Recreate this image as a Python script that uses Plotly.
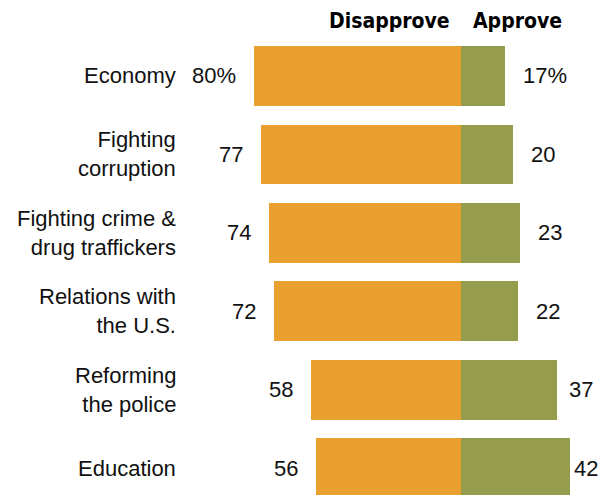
import plotly.graph_objects as go

# Survey results: share who approve / disapprove of handling of each issue
categories = [
    "Economy",
    "Fighting<br>corruption",
    "Fighting crime &<br>drug traffickers",
    "Relations with<br>the U.S.",
    "Reforming<br>the police",
    "Education",
]
disapprove = [80, 77, 74, 72, 58, 56]
approve = [17, 20, 23, 22, 37, 42]

ORANGE = "#EAA02E"
GREEN = "#959D4C"
BODY_FONT = "Liberation Sans, Arial, sans-serif"
HEAD_FONT = "Liberation Sans Narrow, Arial Narrow, DejaVu Sans Condensed, sans-serif"

rows = list(range(len(categories)))

fig = go.Figure()
fig.add_trace(go.Bar(
    y=rows, x=[-v for v in disapprove], base=0, orientation="h",
    marker=dict(color=ORANGE, line=dict(width=0)), width=0.764,
    hoverinfo="skip", name="Disapprove",
))
fig.add_trace(go.Bar(
    y=rows, x=approve, base=0, orientation="h",
    marker=dict(color=GREEN, line=dict(width=0)), width=0.764,
    hoverinfo="skip", name="Approve",
))

annotations = []
# pixel gap between the end of an approve bar and its value label
approve_gap = [16, 16, 16, 16, 10, 2]

for i, (cat, d, a) in enumerate(zip(categories, disapprove, approve)):
    suffix = "%" if i == 0 else ""
    annotations.append(dict(
        x=0.292, xref="paper", y=i, yref="y", text=cat, showarrow=False,
        xanchor="right", yanchor="middle", align="right",
        font=dict(family=BODY_FONT, size=22, color="#111111"),
    ))
    annotations.append(dict(
        x=-d, xref="x", y=i, yref="y", text=f"{d}{suffix}", showarrow=False,
        xanchor="right", yanchor="middle", xshift=-16,
        font=dict(family=BODY_FONT, size=22, color="#111111"),
    ))
    annotations.append(dict(
        x=a, xref="x", y=i, yref="y", text=f"{a}{suffix}", showarrow=False,
        xanchor="left", yanchor="middle", xshift=approve_gap[i],
        font=dict(family=BODY_FONT, size=22, color="#111111"),
    ))

# column headers
annotations.append(dict(
    x=389 / 611, xref="paper", y=1 - 21 / 495, yref="paper", text="<b>Disapprove</b>",
    showarrow=False, xanchor="center", yanchor="middle",
    font=dict(family=HEAD_FONT, size=21, color="#000000"),
))
annotations.append(dict(
    x=517.5 / 611, xref="paper", y=1 - 21 / 495, yref="paper", text="<b>Approve</b>",
    showarrow=False, xanchor="center", yanchor="middle",
    font=dict(family=HEAD_FONT, size=21, color="#000000"),
))

fig.update_layout(
    width=611, height=495,
    margin=dict(l=0, r=0, t=0, b=0),
    paper_bgcolor="white", plot_bgcolor="white",
    barmode="overlay", bargap=0, showlegend=False,
    annotations=annotations,
    xaxis=dict(range=[-177.9, 58.0], visible=False, fixedrange=True),
    yaxis=dict(range=[5.338, -0.968], visible=False, fixedrange=True),
)

fig.write_html("out.html")
